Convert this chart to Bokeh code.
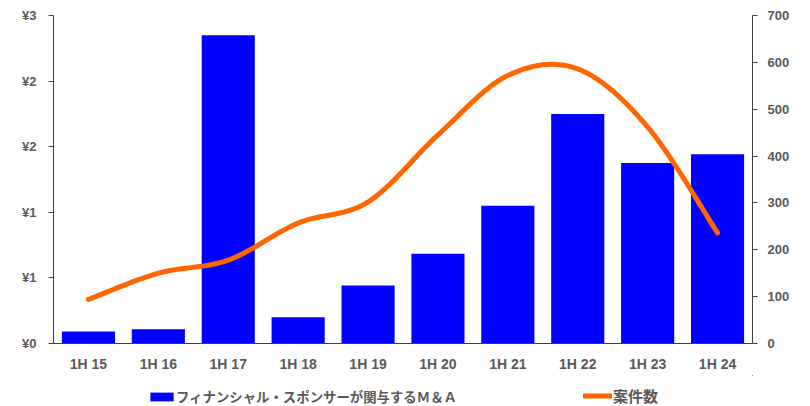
import numpy as np
from bokeh.plotting import figure
from bokeh.layouts import column
from bokeh.models import Range1d, LinearAxis, FixedTicker, Legend, LegendItem
from bokeh.embed import file_html
from bokeh.resources import INLINE

# Half-year periods
categories = ["1H 15", "1H 16", "1H 17", "1H 18", "1H 19",
              "1H 20", "1H 21", "1H 22", "1H 23", "1H 24"]
# Deal value of sponsor-involved M&A (left axis)
deal_value = [0.11, 0.13, 2.82, 0.24, 0.53, 0.82, 1.26, 2.10, 1.65, 1.73]
# Number of deals (right axis)
deal_count = [94, 150, 178, 257, 302, 445, 572, 586, 462, 236]

value_ticks = [0, 0.6, 1.2, 1.8, 2.4, 3.0]
value_tick_labels = ["¥0", "¥1", "¥1", "¥2", "¥2", "¥3"]
count_ticks = [0, 100, 200, 300, 400, 500, 600, 700]

bar_label = "フィナンシャル・スポンサーが関与するＭ＆Ａ"
line_label = "案件数"

BLUE = "#0000FF"
ORANGE = "#FF6600"
TEXT = "#595959"
AXIS = "#404040"
TICK_FONT = "Liberation Sans"
JP_FONT = "Noto Sans CJK JP"


def smooth_path(xs, ys, steps=30):
    """Cubic Bezier path through the points (Catmull-Rom style control points)."""
    n = len(xs)
    out_x, out_y = [], []
    for i in range(n - 1):
        i0, i3 = max(i - 1, 0), min(i + 2, n - 1)
        x0, y0 = xs[i0], ys[i0]
        x1, y1 = xs[i], ys[i]
        x2, y2 = xs[i + 1], ys[i + 1]
        x3, y3 = xs[i3], ys[i3]
        cx1, cy1 = x1 + (x2 - x0) / 6, y1 + (y2 - y0) / 6
        cx2, cy2 = x2 - (x3 - x1) / 6, y2 - (y3 - y1) / 6
        ts = np.linspace(0, 1, steps, endpoint=(i == n - 2))
        for t in ts:
            a, b, c, d = (1 - t) ** 3, 3 * (1 - t) ** 2 * t, 3 * (1 - t) * t ** 2, t ** 3
            out_x.append(a * x1 + b * cx1 + c * cx2 + d * x2)
            out_y.append(a * y1 + b * cy1 + c * cy2 + d * y2)
    return out_x, out_y


p = figure(width=810, height=375, x_range=categories, y_range=Range1d(0, 3),
           output_backend="svg", toolbar_location=None,
           min_border_left=53, min_border_right=58, min_border_top=15, min_border_bottom=32)
p.extra_y_ranges = {"count": Range1d(0, 700)}

bar_style = dict(fill_color=BLUE, line_color=None)
line_style = dict(line_color=ORANGE, line_width=5, line_cap="round", line_join="round")

p.vbar(x=categories, top=deal_value, width=0.76, **bar_style)

# category centres in synthetic coordinates of the factor range
centers = [i + 0.5 for i in range(len(categories))]
sx, sy = smooth_path(centers, deal_count)
p.line(x=sx, y=sy, y_range_name="count", **line_style)

p.grid.visible = False
p.outline_line_color = None


def style_axis(ax, standoff, size):
    ax.axis_line_color = AXIS
    ax.minor_tick_line_color = None
    ax.major_label_standoff = standoff
    ax.major_label_text_font = TICK_FONT
    ax.major_label_text_font_style = "bold"
    ax.major_label_text_font_size = size
    ax.major_label_text_color = TEXT


# left axis
ya = p.yaxis[0]
ya.ticker = FixedTicker(ticks=value_ticks)
ya.major_label_overrides = {t: lab for t, lab in zip(value_ticks, value_tick_labels)}
ya.major_tick_line_color = AXIS
ya.major_tick_out = 5
ya.major_tick_in = 0
style_axis(ya, 12, "13px")

# right axis
ra = LinearAxis(y_range_name="count", ticker=FixedTicker(ticks=count_ticks))
ra.major_tick_line_color = AXIS
ra.major_tick_out = 5
ra.major_tick_in = 0
style_axis(ra, 10, "13px")
p.add_layout(ra, "right")

# bottom axis
xa = p.xaxis[0]
xa.major_tick_line_color = None
style_axis(xa, 6, "14px")

# legend strip underneath the chart; its renderers carry the same series
# but the strip's ranges keep them out of view, so only the keys show
leg = figure(width=810, height=31, x_range=(-20, -10), y_range=(-2000, -1000),
             x_axis_type=None, y_axis_type=None, output_backend="svg",
             toolbar_location=None, min_border=0,
             min_border_left=0, min_border_right=0, min_border_top=0, min_border_bottom=0)
leg.grid.visible = False
leg.outline_line_color = None
leg.background_fill_color = None
leg.border_fill_color = None
bar_key = leg.vbar(x=centers, top=deal_value, width=0.76, **bar_style)
line_key = leg.line(x=centers, y=deal_count, **line_style)


def add_key(label, renderer, loc, size, standoff):
    lg = Legend(items=[LegendItem(label=label, renderers=[renderer])],
                location=loc, orientation="horizontal",
                glyph_width=29, glyph_height=11, label_height=17,
                label_standoff=standoff, padding=0, margin=0, spacing=0,
                border_line_alpha=0, background_fill_alpha=0,
                label_text_font=JP_FONT, label_text_font_style="bold",
                label_text_font_size=size, label_text_color=TEXT)
    leg.add_layout(lg, "center")


add_key(bar_label, bar_key, (94, 0), "13.4px", 0)
add_key(line_label, line_key, (530, 0), "15px", 1)

layout = column(p, leg, spacing=0)
open("out.html", "w").write(file_html(layout, INLINE))
